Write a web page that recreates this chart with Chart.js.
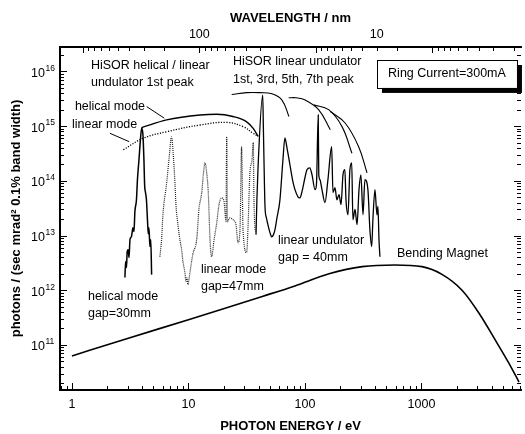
<!DOCTYPE html>
<html><head><meta charset="utf-8">
<script src="https://cdn.jsdelivr.net/npm/chart.js@4.4.0/dist/chart.umd.min.js"></script>
<style>html,body{margin:0;padding:0;background:#fff}</style>
</head><body>
<canvas id="c" width="525" height="434" style="width:525px;height:434px;display:block"></canvas>
<script>
const HC = 1239.84;
// ---------- axis ranges and tick labels ----------
const energyRange = [0.79, 7150];
const fluxRange = [1.5e10, 2.8e16];
const energyTickLabels = ['1', '10', '100', '1000'];
const fluxTickExponents = [11, 12, 13, 14, 15, 16];
const wavelengthTicks = [1000,900,800,700,600,500,400,300,200,100,90,80,70,60,50,40,30,20,10,9,8,7,6,5,4,3,2,1,0.9,0.8,0.7,0.6,0.5,0.4,0.3,0.2];
const wavelengthLabelAt = [100, 3];
const wavelengthLabelText = ['100', '10'];

// ---------- series ----------
const bmEnergy = [1, 3, 10, 20, 43, 82, 161, 310, 590, 1010, 1500, 2230, 3120, 4270, 5640, 6870];
const bmFlux   = [6.3e10, 1.31e11, 2.9e11, 4.6e11, 7.7e11, 1.2e12, 2.0e12, 2.7e12, 2.9e12, 2.7e12, 1.95e12, 1.0e12, 3.8e11, 1.26e11, 4.6e10, 2.1e10];

const helEnergy = [2.85,2.89,2.94,2.98,3.04,3.09,3.15,3.24,3.34,3.41,3.47,3.58,3.65,3.76,3.87,3.97,4.07,4.15,4.21,4.27,4.36,4.45,4.52,4.58,4.67,4.75,4.83];
const helFlux   = [1.71e12,3.34e12,2.6e12,5.1e12,5.5e12,3.95e12,8.4e12,9.5e12,1.39e13,1.18e13,2.73e13,4.5e13,1.05e14,2.4e14,5.6e14,9.3e14,6.9e14,2.4e14,8.1e13,6.3e13,4.5e13,1.95e13,1.08e13,1.39e13,6.3e12,8.4e12,1.93e12];

const lin47Energy = [5.69,5.89,6.04,6.50,6.80,7.17,7.36,7.66,7.81,8.17,8.45,8.74,8.97,9.33,9.52,9.71,9.90,10.1,10.3,10.9,11.8,12.3,13.0,13.5,13.9,14.3,14.8,15.3,15.8,16.6,17.5,18.3,19.3,20.2,20.6,21.0,21.3,21.6,22.7,24.1,25.6,26.6,27.7,28.6,29.4,31.6,32.4,33.7,35.1,36.0,36.5,37.2,38.0];
const lin47Flux   = [4.1e12,8.9e12,2.4e13,9.2e13,2.4e14,6.4e14,3.7e14,9.2e13,3.7e13,1.45e13,8.4e12,5.5e12,3.34e12,2.1e12,1.44e12,1.71e12,1.27e12,1.57e12,2.1e12,4.5e12,8.9e12,3.0e13,6.1e13,1.47e14,2.14e14,1.47e14,6.1e13,8.9e12,4.1e12,8.4e12,1.72e13,3.7e13,4.9e13,4.2e13,2.6e13,1.8e13,6.4e14,1.8e13,2.1e13,1.95e13,1.58e13,7.4e12,1.28e13,4.2e14,1.28e13,4.9e12,1.28e13,1.41e14,2.4e14,5.0e14,4.5e13,1.45e13,1.18e13];

const lin40Energy = [38.0,38.7,39.5,43.4,44.0,44.5,45.4,46.7,48.1,50.1,51.8,53.7,55.3,57.5,61.0,64.7,67.3,70.1,74.3,78.9,82.1,87.1,90.6,94.2,100,104,110,115,122,125.5,130,131.4,134.5,140,148.5,157.5,169.5,174,181,188,196,204,212,220,225,234,243,252,258,269,280,291,302,315,327,347,361,374,383,399,415,423,432,440];
const lin40Flux   = [1.04e13,4.5e13,1.6e14,3.7e15,8.6e14,2.4e14,3.4e13,2.1e13,1.58e13,1.13e13,9.5e12,1.04e13,1.28e13,2.1e13,4.5e13,2.4e14,6.1e14,4.0e14,1.97e14,9.6e13,6.9e13,5.1e13,4.9e13,6.3e13,1.14e14,1.6e14,1.73e14,1.29e14,6.9e13,8.5e13,1.6e15,1.29e14,1.05e14,6.9e13,4.0e13,1.05e14,4.2e14,6.1e13,7.5e13,4.5e13,5.6e13,3.7e13,1.29e14,1.6e14,4.5e13,2.4e13,1.6e14,2.14e14,1.95e13,3.0e13,1.58e13,6.9e13,1.29e14,2.4e13,1.05e14,6.9e13,1.28e13,6.3e12,1.95e13,6.9e13,2.4e13,3.4e13,8.4e12,4.1e12];

const helEnvEnergy = [3.96, 6.5, 12.6, 17.5, 24.1, 31.6, 35.8, 39.7];
const helEnvFlux   = [9.4e14, 1.3e15, 1.6e15, 1.65e15, 1.5e15, 1.2e15, 9.2e14, 6.5e14];
const linEnvEnergy = [2.76, 4.09, 6.5, 12.6, 21.3, 29.5, 35.9, 39.7];
const linEnvFlux   = [3.7e14, 6.0e14, 7.9e14, 1.05e15, 1.17e15, 9.8e14, 7.4e14, 6.5e14];

const peak1Energy = [23.5, 31.6, 41.1, 52.1, 63.5, 72.9];
const peak1Flux   = [3.8e15, 4.1e15, 4.1e15, 3.9e15, 3.0e15, 1.5e15];
const peak3Energy = [72.5, 83.7, 100.6, 131, 165];
const peak3Flux   = [3.3e15, 3.3e15, 3.0e15, 2.0e15, 8.6e14];
const peak5Energy = [118.8, 159.7, 208, 253];
const peak5Flux   = [2.45e15, 2.0e15, 9.8e14, 3.2e14];
const peak7Energy = [165, 222, 289, 341];
const peak7Flux   = [1.85e15, 1.13e15, 4.2e14, 1.4e14];

const helLeaderEnergy = [4.38, 6.2];
const helLeaderFlux   = [2.28e15, 1.4e15];
const linLeaderEnergy = [2.12, 3.10];
const linLeaderFlux   = [7.4e14, 5.2e14];

// ---------- annotations ----------
const noteText   = ['HiSOR helical / linear','undulator 1st peak','HiSOR linear undulator','1st, 3rd, 5th, 7th peak','helical mode','linear mode','linear mode','gap=47mm','helical mode','gap=30mm','linear undulator','gap = 40mm','Bending Magnet'];
const noteEnergy = [1.456,1.456,24.1,24.1,1.06,1.0,12.8,12.8,1.372,1.372,58.7,58.7,616];
const noteFlux   = [1.26e16,6.2e15,1.49e16,7.1e15,2.25e15,1.06e15,2.39e12,1.17e12,7.7e11,3.76e11,8.1e12,3.95e12,4.7e12];
const boxText = 'Ring Current=300mA';
const boxEnergy = [415, 6600];
const boxFlux = [1.62e16, 5.0e15];

const zip = (xs, ys) => xs.map((x, i) => ({x: x, y: ys[i]}));
const FONT = '"Liberation Sans", Arial, sans-serif';

function logTicks(min, max) {
  const t = [];
  for (let e = Math.floor(Math.log10(min)); e <= Math.ceil(Math.log10(max)); e++) {
    for (let m = 1; m <= 9; m++) {
      const v = m * Math.pow(10, e);
      if (v >= min * 0.999 && v <= max * 1.001) t.push({value: v, major: m === 1, exp: e});
    }
  }
  return t;
}
function wavelengthTickList() {
  return wavelengthTicks.slice().reverse().map(l => ({
    value: HC / l, lam: l,
    major: Math.abs(Math.log10(l) - Math.round(Math.log10(l))) < 1e-9
  }));
}

function ds(xs, ys, opts) {
  return Object.assign({
    data: zip(xs, ys), borderColor: '#000', borderWidth: 1.3, pointRadius: 0,
    fill: false, tension: 0, xAxisID: 'x', yAxisID: 'y'
  }, opts || {});
}

const datasets = [
  ds(bmEnergy, bmFlux, {borderWidth: 1.6, cubicInterpolationMode: 'monotone'}),
  ds(helEnergy, helFlux, {borderWidth: 1.5, cubicInterpolationMode: 'monotone'}),
  ds(lin47Energy, lin47Flux, {borderWidth: 1.2, borderDash: [1, 1], borderColor: '#222', cubicInterpolationMode: 'monotone'}),
  ds(lin40Energy, lin40Flux, {borderWidth: 1.3, cubicInterpolationMode: 'monotone'}),
  ds(helEnvEnergy, helEnvFlux, {borderWidth: 1.4, cubicInterpolationMode: 'monotone'}),
  ds(linEnvEnergy, linEnvFlux, {borderWidth: 1.3, borderDash: [1.2, 1.5], tension: 0.4}),
  ds(peak1Energy, peak1Flux, {borderWidth: 1.1, tension: 0.4}),
  ds(peak3Energy, peak3Flux, {borderWidth: 1.1, tension: 0.4}),
  ds(peak5Energy, peak5Flux, {borderWidth: 1.1, tension: 0.4}),
  ds(peak7Energy, peak7Flux, {borderWidth: 1.1, tension: 0.4}),
  ds(helLeaderEnergy, helLeaderFlux, {borderWidth: 1}),
  ds(linLeaderEnergy, linLeaderFlux, {borderWidth: 1})
];

const decor = {
  id: 'decor',
  afterDraw(chart) {
    const ctx = chart.ctx, ca = chart.chartArea, sc = chart.scales;
    ctx.save();
    ctx.strokeStyle = '#000'; ctx.fillStyle = '#000'; ctx.lineWidth = 1;
    // inward tick marks
    const drawTicks = (scale, list, side, majorLen, minorLen) => {
      list.forEach(t => {
        const p = Math.round(scale.getPixelForValue(t.value)) + 0.5;
        const len = t.major ? majorLen : minorLen;
        ctx.beginPath();
        if (side === 'bottom') { ctx.moveTo(p, ca.bottom); ctx.lineTo(p, ca.bottom - len); }
        if (side === 'top') { ctx.moveTo(p, ca.top); ctx.lineTo(p, ca.top + len); }
        if (side === 'left') { ctx.moveTo(ca.left, p); ctx.lineTo(ca.left + len, p); }
        if (side === 'right') { ctx.moveTo(ca.right, p); ctx.lineTo(ca.right - len, p); }
        ctx.stroke();
      });
    };
    const eT = logTicks(energyRange[0], energyRange[1]);
    const fT = logTicks(fluxRange[0], fluxRange[1]);
    drawTicks(sc.x, eT, 'bottom', 7, 4);
    drawTicks(sc.x2, wavelengthTickList(), 'top', 6, 4);
    drawTicks(sc.y, fT, 'left', 7, 4);
    drawTicks(sc.yR, fT, 'right', 7, 4);
    // y tick labels with superscript exponents
    fT.forEach(t => {
      if (!t.major || fluxTickExponents.indexOf(t.exp) < 0) return;
      const p = sc.y.getPixelForValue(t.value);
      ctx.textAlign = 'right'; ctx.textBaseline = 'middle';
      ctx.font = '12.5px ' + FONT;
      ctx.fillText('10', 45, p + 2);
      ctx.textAlign = 'left';
      ctx.font = '8.5px ' + FONT;
      ctx.fillText(String(t.exp), 45.5, p - 3);
    });
    // notes
    ctx.font = '12.5px ' + FONT;
    ctx.textAlign = 'left'; ctx.textBaseline = 'middle';
    noteText.forEach((s, i) => {
      ctx.fillText(s, sc.x.getPixelForValue(noteEnergy[i]), sc.y.getPixelForValue(noteFlux[i]));
    });
    // ring current box with shadow
    const bx0 = sc.x.getPixelForValue(boxEnergy[0]), bx1 = sc.x.getPixelForValue(boxEnergy[1]);
    const by0 = sc.y.getPixelForValue(boxFlux[0]), by1 = sc.y.getPixelForValue(boxFlux[1]);
    ctx.fillStyle = '#000';
    ctx.fillRect(bx0 + 5, by0 + 5, bx1 - bx0, by1 - by0);
    ctx.fillStyle = '#fff';
    ctx.fillRect(bx0, by0, bx1 - bx0, by1 - by0);
    ctx.strokeRect(Math.round(bx0) + 0.5, Math.round(by0) + 0.5, Math.round(bx1 - bx0), Math.round(by1 - by0));
    ctx.fillStyle = '#000';
    ctx.textAlign = 'center';
    ctx.fillText(boxText, (bx0 + bx1) / 2, (by0 + by1) / 2);
    ctx.restore();
  }
};

new Chart(document.getElementById('c'), {
  type: 'line',
  data: {datasets: datasets},
  options: {
    responsive: false, animation: false, devicePixelRatio: 1,
    layout: {padding: 0},
    plugins: {legend: {display: false}, tooltip: {enabled: false}},
    scales: {
      x: {
        type: 'logarithmic', position: 'bottom', min: energyRange[0], max: energyRange[1],
        afterBuildTicks: s => { s.ticks = logTicks(energyRange[0], energyRange[1]).filter(t => t.major); },
        afterFit: s => { s.height = 44; },
        grid: {display: false, drawTicks: false},
        border: {display: true, color: '#000', width: 2},
        ticks: {
          autoSkip: false, maxRotation: 0, minRotation: 0, padding: 7.5, color: '#000',
          font: {family: FONT, size: 12.5},
          callback: function (v, i, ticks) {
            const t = ticks[i];
            return energyTickLabels[t.exp] || '';
          }
        },
        title: {display: true, text: 'PHOTON ENERGY / eV', color: '#000', font: {family: FONT, size: 13, weight: 'bold'}, padding: {top: 0, bottom: 0}}
      },
      x2: {
        type: 'logarithmic', position: 'top', min: energyRange[0], max: energyRange[1],
        afterBuildTicks: s => { s.ticks = wavelengthTickList().filter(t => wavelengthLabelAt.indexOf(t.lam) >= 0); },
        afterFit: s => { s.height = 47; },
        grid: {display: false, drawTicks: false},
        border: {display: true, color: '#000', width: 2},
        ticks: {
          autoSkip: false, maxRotation: 0, minRotation: 0, padding: 4.5, color: '#000',
          font: {family: FONT, size: 12.5},
          callback: function (v, i, ticks) {
            const k = wavelengthLabelAt.indexOf(ticks[i].lam);
            return k >= 0 ? wavelengthLabelText[k] : '';
          }
        },
        title: {display: true, text: 'WAVELENGTH / nm', color: '#000', font: {family: FONT, size: 13, weight: 'bold'}, padding: {top: 11, bottom: 0}}
      },
      y: {
        type: 'logarithmic', position: 'left', min: fluxRange[0], max: fluxRange[1],
        afterBuildTicks: s => { s.ticks = logTicks(fluxRange[0], fluxRange[1]).filter(t => t.major); },
        afterFit: s => { s.width = 60; },
        grid: {display: false, drawTicks: false},
        border: {display: true, color: '#000', width: 2},
        ticks: {display: false},
        title: {display: true, text: 'photons / (sec mrad\u00B2 0.1% band width)', color: '#000', font: {family: FONT, size: 13, weight: 'bold'}, padding: {top: 9, bottom: 0}}
      },
      yR: {
        type: 'logarithmic', position: 'right', min: fluxRange[0], max: fluxRange[1],
        afterBuildTicks: s => { s.ticks = logTicks(fluxRange[0], fluxRange[1]).filter(t => t.major); },
        afterFit: s => { s.width = 4; },
        grid: {display: false, drawTicks: false},
        border: {display: false},
        ticks: {display: false}
      }
    }
  },
  plugins: [decor]
});
</script>
</body></html>
